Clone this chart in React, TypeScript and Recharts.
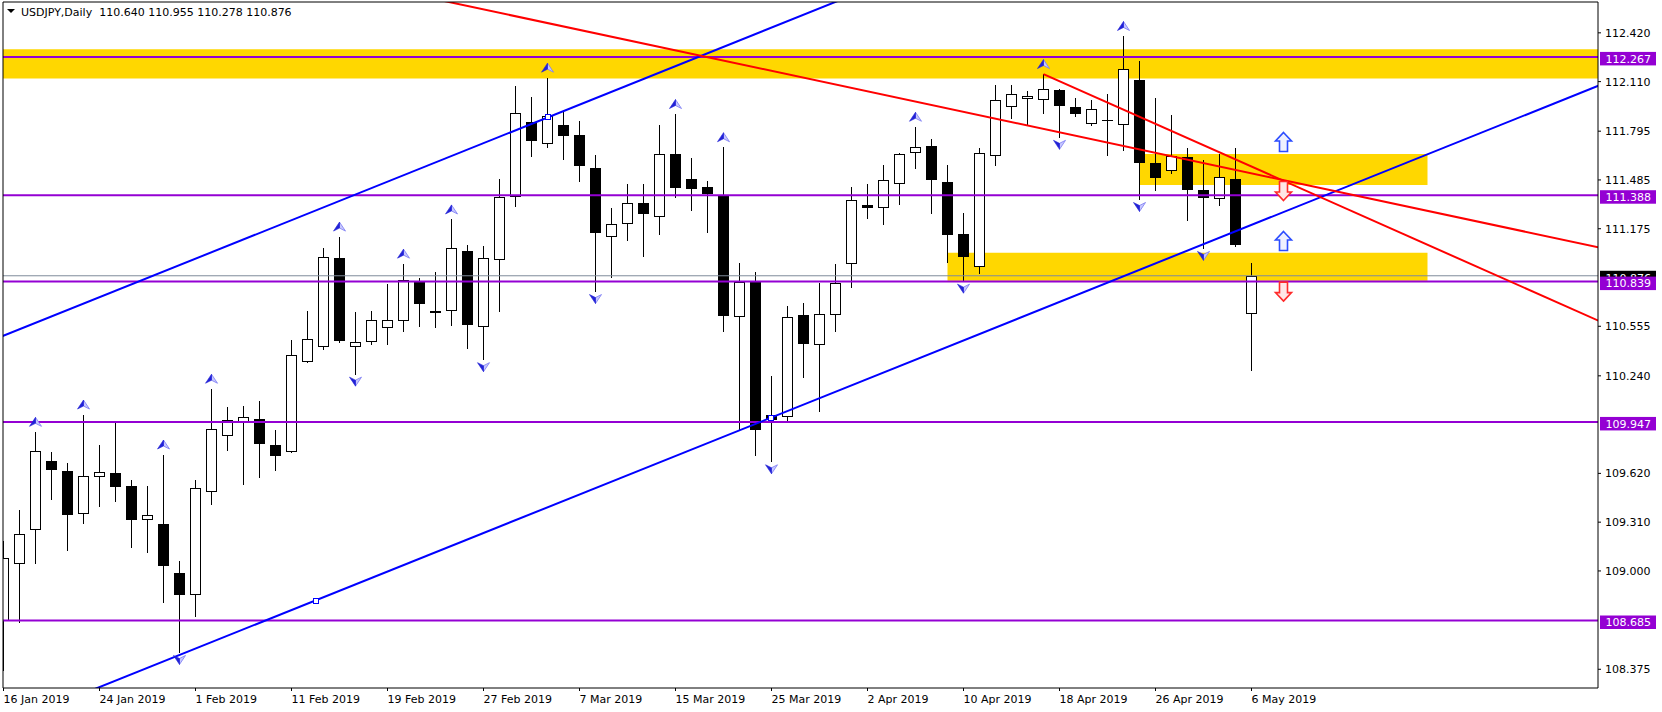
import React from "react";
import {
  ComposedChart,
  Bar,
  XAxis,
  YAxis,
  ReferenceLine,
  ReferenceArea,
  ReferenceDot,
} from "recharts";

// USDJPY daily bars, 16 Jan 2019 .. 6 May 2019
const dates = [
  "16 Jan 2019", "17 Jan 2019", "18 Jan 2019", "21 Jan 2019", "22 Jan 2019", "23 Jan 2019",
  "24 Jan 2019", "25 Jan 2019", "28 Jan 2019", "29 Jan 2019", "30 Jan 2019", "31 Jan 2019",
  "1 Feb 2019", "4 Feb 2019", "5 Feb 2019", "6 Feb 2019", "7 Feb 2019", "8 Feb 2019",
  "11 Feb 2019", "12 Feb 2019", "13 Feb 2019", "14 Feb 2019", "15 Feb 2019", "18 Feb 2019",
  "19 Feb 2019", "20 Feb 2019", "21 Feb 2019", "22 Feb 2019", "25 Feb 2019", "26 Feb 2019",
  "27 Feb 2019", "28 Feb 2019", "1 Mar 2019", "4 Mar 2019", "5 Mar 2019", "6 Mar 2019",
  "7 Mar 2019", "8 Mar 2019", "11 Mar 2019", "12 Mar 2019", "13 Mar 2019", "14 Mar 2019",
  "15 Mar 2019", "18 Mar 2019", "19 Mar 2019", "20 Mar 2019", "21 Mar 2019", "22 Mar 2019",
  "25 Mar 2019", "26 Mar 2019", "27 Mar 2019", "28 Mar 2019", "29 Mar 2019", "1 Apr 2019",
  "2 Apr 2019", "3 Apr 2019", "4 Apr 2019", "5 Apr 2019", "8 Apr 2019", "9 Apr 2019",
  "10 Apr 2019", "11 Apr 2019", "12 Apr 2019", "15 Apr 2019", "16 Apr 2019", "17 Apr 2019",
  "18 Apr 2019", "19 Apr 2019", "22 Apr 2019", "23 Apr 2019", "24 Apr 2019", "25 Apr 2019",
  "26 Apr 2019", "29 Apr 2019", "30 Apr 2019", "1 May 2019", "2 May 2019", "3 May 2019",
  "6 May 2019",
];

const opens = [
  108.687, 109.048, 109.264, 109.7, 109.636, 109.371, 109.601, 109.624, 109.538, 109.327,
  109.301, 108.99, 108.854, 109.509, 109.864, 109.953, 109.965, 109.798, 109.76, 110.337,
  110.432, 110.986, 110.432, 110.461, 110.548, 110.594, 110.836, 110.648, 110.657, 111.032,
  110.554, 110.983, 111.384, 111.855, 111.722, 111.837, 111.768, 111.563, 111.131, 111.211,
  111.338, 111.257, 111.65, 111.494, 111.442, 111.39, 110.62, 110.836, 109.994, 109.982,
  110.629, 110.441, 110.634, 110.957, 111.327, 111.312, 111.465, 111.664, 111.702, 111.471,
  111.139, 110.937, 111.644, 111.956, 112.005, 111.999, 112.054, 111.947, 111.846, 111.866,
  111.84, 112.12, 111.595, 111.549, 111.63, 111.419, 111.37, 111.494, 110.64,
];
const highs = [
  109.192, 109.388, 109.884, 109.754, 109.688, 109.994, 109.798, 109.942, 109.581, 109.538,
  109.74, 109.062, 109.575, 110.158, 110.04, 110.046, 110.08, 109.896, 110.467, 110.649,
  111.053, 111.125, 110.643, 110.649, 110.822, 110.953, 110.859, 110.9, 111.234, 111.073,
  111.067, 111.488, 112.083, 112.013, 112.135, 111.918, 111.858, 111.644, 111.304, 111.462,
  111.462, 111.832, 111.904, 111.627, 111.477, 111.693, 110.957, 110.9, 110.236, 110.686,
  110.706, 110.83, 110.952, 111.442, 111.457, 111.578, 111.659, 111.823, 111.745, 111.578,
  111.278, 111.687, 112.091, 112.091, 112.048, 112.158, 112.062, 112.005, 111.996, 112.034,
  112.4, 112.241, 112.005, 111.895, 111.687, 111.61, 111.653, 111.687, 110.955,
];
const lows = [
  108.37, 108.678, 109.048, 109.46, 109.134, 109.307, 109.414, 109.446, 109.149, 109.12,
  108.802, 108.485, 108.716, 109.428, 109.769, 109.552, 109.596, 109.642, 109.754, 110.326,
  110.409, 110.455, 110.254, 110.441, 110.441, 110.524, 110.554, 110.548, 110.565, 110.418,
  110.346, 110.649, 111.318, 111.635, 111.696, 111.615, 111.477, 110.779, 110.871, 111.102,
  111.001, 111.139, 111.376, 111.295, 111.154, 110.528, 109.894, 109.74, 109.697, 109.948,
  110.23, 110.014, 110.525, 110.802, 111.24, 111.206, 111.332, 111.558, 111.275, 110.966,
  110.845, 110.894, 111.581, 111.881, 111.84, 111.912, 111.759, 111.889, 111.837, 111.644,
  111.673, 111.364, 111.419, 111.529, 111.232, 111.053, 111.327, 111.067, 110.278,
];
const closes = [
  109.08, 109.235, 109.763, 109.648, 109.365, 109.604, 109.63, 109.538, 109.327, 109.356,
  109.039, 108.851, 109.524, 109.899, 109.959, 109.976, 109.812, 109.74, 110.375, 110.476,
  110.995, 110.47, 110.455, 110.594, 110.594, 110.851, 110.706, 110.652, 111.053, 110.568,
  110.989, 111.379, 111.912, 111.739, 111.889, 111.768, 111.581, 111.154, 111.206, 111.338,
  111.275, 111.65, 111.442, 111.433, 111.399, 110.629, 110.836, 109.904, 109.965, 110.614,
  110.447, 110.634, 110.828, 111.356, 111.312, 111.485, 111.65, 111.696, 111.491, 111.139,
  111.004, 111.659, 111.996, 112.034, 112.019, 112.062, 111.961, 111.91, 111.933, 111.869,
  112.192, 111.601, 111.506, 111.638, 111.428, 111.379, 111.506, 111.081, 110.876,
];

const dateTickBars = [0, 6, 12, 18, 24, 30, 36, 42, 48, 54, 60, 66, 72, 78];
const priceTicks = [112.42, 112.11, 111.795, 111.485, 111.175, 110.555, 110.24, 109.62, 109.31, 109.0, 108.375];

// horizontal levels (purple) and the bid line
const levelPrices = [112.267, 111.388, 110.839, 109.947, 108.685];
const bidPrice = 110.876;

// yellow zones
const zoneFrom = [-0.03125, 71, 59];
const zoneTo = [99.65625, 89, 89];
const zoneLow = [112.13, 111.453, 110.845];
const zoneHigh = [112.315, 111.65, 111.023];

// trend lines: bar index / price pairs
const trendX1 = [-10, -10, 20, 65];
const trendP1 = [110.087, 107.609, 112.786, 112.158];
const trendX2 = [60, 110, 110, 110];
const trendP2 = [112.943, 112.505, 110.833, 110.124];
const trendColors = ["#0000ff", "#0000ff", "#ff0000", "#ff0000"];

const anchorBars = [19.5, 34, 48];
const anchorPrices = [108.812, 111.882, 109.975];

// fractals
const fractalUpBars = [2, 5, 10, 13, 21, 25, 28, 34, 42, 45, 57, 65, 70];
const fractalDownBars = [11, 22, 30, 37, 48, 60, 66, 71, 75];

// signal arrows
const signalBar = 80;
const signalPrices = [111.726, 111.415, 111.097, 110.775];
const signalDirs = ["up", "down", "up", "down"];

const X_MIN = -0.03125;
const X_MAX = 99.65625;
const Y_MIN = 108.256;
const Y_MAX = 112.616;

const FONT = "DejaVu Sans, Verdana, sans-serif";
const PURPLE = "#9400d3";

const bars = dates.map((d, i) => ({
  i,
  date: d,
  o: opens[i],
  h: highs[i],
  l: lows[i],
  c: closes[i],
  range: [lows[i], highs[i]],
}));

function Candle(props: any) {
  const { x, y, width, height, payload } = props;
  if (x == null || y == null || !payload) return null;
  const top = Math.min(y, y + height);
  const span = Math.abs(height);
  const { o, h, l, c } = payload;
  const toY = (p: number) => top + ((h - p) / (h - l || 1)) * span;
  const cx = Math.round(x + width / 2 - 0.5) + 0.5;
  const wickTop = Math.round(toY(h));
  const wickBot = Math.round(toY(l));
  const bodyTop = Math.round(toY(Math.max(o, c))) + 0.5;
  const bodyBot = Math.round(toY(Math.min(o, c))) + 0.5;
  const up = c >= o;
  return (
    <g>
      <line x1={cx} x2={cx} y1={wickTop} y2={wickBot + 1} stroke="#000" strokeWidth={1} />
      {bodyBot - bodyTop < 1 ? (
        <line x1={cx - 5.5} x2={cx + 5.5} y1={bodyTop} y2={bodyTop} stroke="#000" strokeWidth={1} />
      ) : (
        <rect
          x={cx - 5}
          y={bodyTop}
          width={10}
          height={bodyBot - bodyTop}
          fill={up ? "#fff" : "#000"}
          stroke="#000"
          strokeWidth={1}
        />
      )}
    </g>
  );
}

function PriceTag(props: any) {
  const { viewBox, text, bg, offset } = props;
  if (!viewBox) return null;
  const x = viewBox.x + viewBox.width + 2;
  const y = viewBox.y;
  return (
    <g>
      <rect x={x} y={y - offset} width={56} height={13.5} fill={bg} />
      <text x={x + 5.5} y={y - offset + 10.8} fill="#fff" fontSize={11} fontFamily={FONT}>
        {text}
      </text>
    </g>
  );
}

function DateTick(props: any) {
  const { x, y, payload } = props;
  return (
    <text x={x} y={y + 9.5} fontSize={11} fontFamily={FONT} fill="#000" textAnchor="start">
      {dates[payload.value]}
    </text>
  );
}

function FractalGlyph({ cx, cy, dir }: { cx: number; cy: number; dir: string }) {
  const s = dir === "up" ? 1 : -1;
  const yc = dir === "up" ? cy - 10 : cy + 8;
  const tip = yc - s * 4.5;
  const base = yc + s * 4.5;
  const notch = yc + s * 1.5;
  return (
    <g>
      <polygon points={`${cx},${tip} ${cx + 6},${base} ${cx},${notch}`} fill="#c8c8ff" stroke="#7a7af2" strokeWidth={0.8} />
      <polygon points={`${cx},${tip} ${cx - 6},${base} ${cx},${notch}`} fill="#2222d6" stroke="#2222d6" strokeWidth={0.6} />
    </g>
  );
}

function SignalArrow({ cx, cy, dir }: { cx: number; cy: number; dir: string }) {
  const s = dir === "up" ? 1 : -1;
  const shape = [
    [0, -9.5], [8, -1], [4, -1], [4, 9.5], [-4, 9.5], [-4, -1], [-8, -1],
  ];
  const pts = shape.map(([dx, dy]) => `${cx + dx},${cy + s * dy}`).join(" ");
  return (
    <polygon
      points={pts}
      fill={dir === "up" ? "#eef0ff" : "#ffe6e6"}
      stroke={dir === "up" ? "#2b4cff" : "#ff2b2b"}
      strokeWidth={1.6}
    />
  );
}

function AnchorSquare({ cx, cy }: { cx: number; cy: number }) {
  return <rect x={Math.round(cx) - 2.5} y={Math.round(cy) - 2.5} width={5} height={5} fill="#fff" stroke="#0000ff" strokeWidth={1} />;
}

export default function App() {
  const last = bars[bars.length - 1];
  const title = `USDJPY,Daily  ${last.o.toFixed(3)} ${last.h.toFixed(3)} ${last.l.toFixed(3)} ${last.c.toFixed(3)}`;
  return (
    <div style={{ position: "absolute", left: 0, top: 0, width: 1662, height: 712, background: "#fff" }}>
      <ComposedChart
        width={1662}
        height={712}
        data={bars}
        margin={{ top: 2, right: 0, bottom: 0, left: 3 }}
      >
        <XAxis
          dataKey="i"
          type="number"
          domain={[X_MIN, X_MAX]}
          allowDataOverflow
          ticks={dateTickBars}
          interval={0}
          height={24}
          tickSize={3}
          tickMargin={2}
          axisLine={{ stroke: "#000" }}
          tickLine={{ stroke: "#000" }}
          tick={<DateTick />}
        />
        <YAxis
          orientation="right"
          type="number"
          domain={[Y_MIN, Y_MAX]}
          allowDataOverflow
          ticks={priceTicks}
          interval={0}
          width={64}
          tickSize={3}
          tickMargin={4}
          axisLine={{ stroke: "#000" }}
          tickLine={{ stroke: "#000" }}
          tick={{ fill: "#000", fontSize: 11, fontFamily: FONT }}
          tickFormatter={(v: number) => v.toFixed(3)}
        />

        {zoneFrom.map((x1, k) => (
          <ReferenceArea
            key={`zone-${k}`}
            x1={x1}
            x2={zoneTo[k]}
            y1={zoneLow[k]}
            y2={zoneHigh[k]}
            fill="#ffd700"
            fillOpacity={1}
            stroke="none"
            ifOverflow="hidden"
          />
        ))}

        <Bar dataKey="range" barSize={11} isAnimationActive={false} shape={(p: any) => <Candle {...p} />} />

        <ReferenceLine
          y={bidPrice}
          stroke="#7f8c9a"
          strokeWidth={1}
          label={<PriceTag text={bidPrice.toFixed(3)} bg="#000" offset={7.5} />}
        />
        {levelPrices.map((p) => (
          <ReferenceLine
            key={`lvl-${p}`}
            y={p}
            stroke={PURPLE}
            strokeWidth={2}
            label={<PriceTag text={p.toFixed(3)} bg={PURPLE} offset={5.5} />}
          />
        ))}

        {trendX1.map((x1, k) => (
          <ReferenceLine
            key={`trend-${k}`}
            segment={[
              { x: x1, y: trendP1[k] },
              { x: trendX2[k], y: trendP2[k] },
            ]}
            stroke={trendColors[k]}
            strokeWidth={2}
            ifOverflow="hidden"
          />
        ))}

        {anchorBars.map((b, k) => (
          <ReferenceDot
            key={`anchor-${k}`}
            x={b}
            y={anchorPrices[k]}
            shape={(p: any) => <AnchorSquare cx={p.cx} cy={p.cy} />}
          />
        ))}

        {fractalUpBars.map((b) => (
          <ReferenceDot
            key={`fu-${b}`}
            x={b}
            y={highs[b]}
            shape={(p: any) => <FractalGlyph cx={p.cx} cy={p.cy} dir="up" />}
          />
        ))}
        {fractalDownBars.map((b) => (
          <ReferenceDot
            key={`fd-${b}`}
            x={b}
            y={lows[b]}
            shape={(p: any) => <FractalGlyph cx={p.cx} cy={p.cy} dir="down" />}
          />
        ))}

        {signalPrices.map((p, k) => (
          <ReferenceDot
            key={`sig-${k}`}
            x={signalBar}
            y={p}
            shape={(q: any) => <SignalArrow cx={q.cx} cy={q.cy} dir={signalDirs[k]} />}
          />
        ))}

        <ReferenceLine x={X_MIN} stroke="#000" strokeWidth={1} ifOverflow="visible" />
        <ReferenceLine y={Y_MAX} stroke="#000" strokeWidth={1} ifOverflow="visible" />
      </ComposedChart>

      <svg width={400} height={24} style={{ position: "absolute", left: 0, top: 0, pointerEvents: "none" }}>
        <polygon points="7,9 15,9 11,13" fill="#000" />
        <text x={21} y={16.4} fontSize={11} fontFamily={FONT} fill="#000" style={{ whiteSpace: "pre" }}>
          {title}
        </text>
      </svg>
    </div>
  );
}
